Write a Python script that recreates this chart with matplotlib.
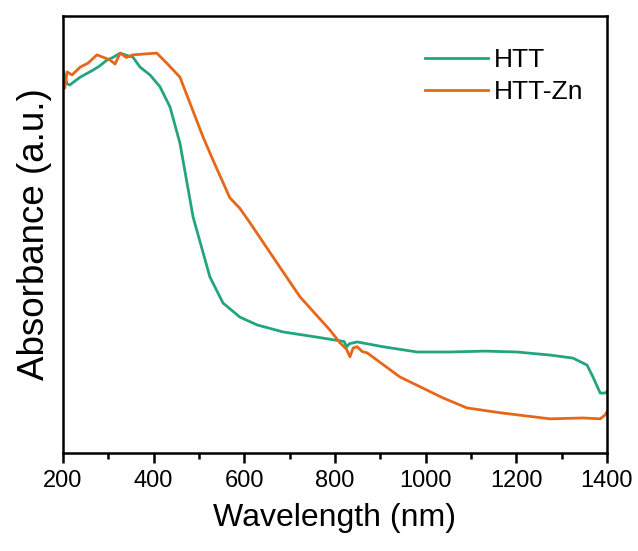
import matplotlib
matplotlib.use("Agg")
import matplotlib.pyplot as plt
from matplotlib.ticker import MultipleLocator

plt.rcParams['font.family'] = ['Liberation Sans', 'DejaVu Sans']

# HTT absorbance (normalised)
htt_wl = [200, 204, 209, 215, 225, 238, 252, 266, 280, 297, 310, 326, 340, 354,
          370, 392, 414, 436, 458, 487, 524, 553, 590, 628, 685, 760, 820, 826,
          832, 849, 906, 981, 1054, 1130, 1201, 1274, 1325, 1356, 1369, 1385,
          1396, 1400]
htt_abs = [0.876, 0.862, 0.845, 0.842, 0.850, 0.860, 0.868, 0.876, 0.885, 0.899,
           0.905, 0.915, 0.910, 0.906, 0.883, 0.865, 0.838, 0.792, 0.709, 0.540,
           0.403, 0.343, 0.311, 0.293, 0.277, 0.265, 0.255, 0.243, 0.250, 0.254,
           0.243, 0.231, 0.231, 0.233, 0.231, 0.224, 0.217, 0.201, 0.174, 0.137,
           0.137, 0.140]

# HTT-Zn absorbance
zn_wl = [200, 204, 209, 220, 238, 255, 275, 290, 304, 315, 326, 340, 354, 380,
         407, 429, 458, 480, 509, 531, 568, 590, 613, 672, 723, 789, 811, 825,
         833, 840, 849, 860, 871, 943, 1038, 1091, 1164, 1274, 1347, 1385, 1396,
         1400]
zn_abs = [0.854, 0.835, 0.872, 0.865, 0.883, 0.892, 0.911, 0.905, 0.899, 0.890,
          0.915, 0.905, 0.911, 0.913, 0.915, 0.892, 0.860, 0.801, 0.723, 0.670,
          0.584, 0.560, 0.526, 0.435, 0.357, 0.281, 0.252, 0.238, 0.220, 0.240,
          0.243, 0.232, 0.229, 0.174, 0.126, 0.103, 0.092, 0.078, 0.080, 0.078,
          0.087, 0.094]

fig = plt.figure(figsize=(6.38, 5.51), dpi=100)
ax = fig.add_axes([0.0987, 0.178, 0.8527, 0.793])

ax.plot(htt_wl, htt_abs, color='#22a57f', lw=2.0, label='HTT')
ax.plot(zn_wl, zn_abs, color='#e6671a', lw=2.0, label='HTT-Zn')

ax.set_xlim(200, 1400)
ax.set_ylim(0, 1)
ax.xaxis.set_major_locator(MultipleLocator(200))
ax.xaxis.set_minor_locator(MultipleLocator(100))
ax.set_yticks([])
ax.tick_params(axis='x', which='major', direction='out', length=7, width=1.8, labelsize=17, pad=5)
ax.tick_params(axis='x', which='minor', direction='out', length=4, width=1.8)
for s in ax.spines.values():
    s.set_linewidth(1.8)

ax.set_xlabel('Wavelength (nm)', fontsize=23, labelpad=8)
ax.set_ylabel('Absorbance (a.u.)', fontsize=26.5, labelpad=8)

ax.legend(loc='upper right', frameon=False, fontsize=19, handlelength=2.4,
          handletextpad=0.2, labelspacing=0.3, bbox_to_anchor=(1.0, 0.98))

fig.savefig('out.png', dpi=100)
